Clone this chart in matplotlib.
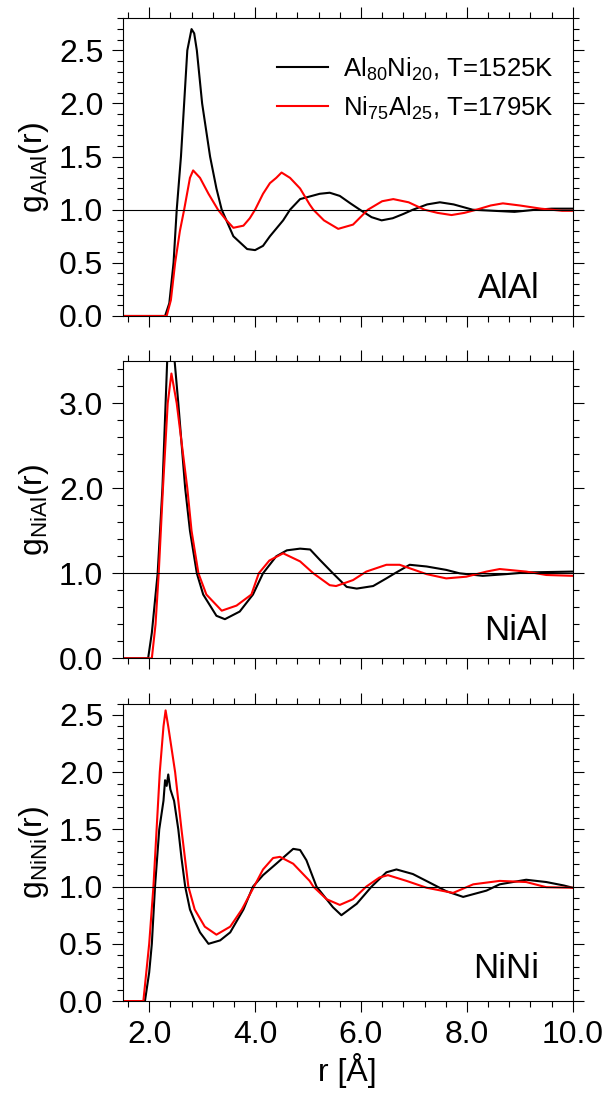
import numpy as np
import matplotlib.pyplot as plt
from matplotlib.ticker import MultipleLocator, FormatStrFormatter

plt.rcParams['font.family'] = ['Liberation Sans', 'DejaVu Sans']
plt.rcParams['mathtext.fontset'] = 'custom'
plt.rcParams['mathtext.rm'] = 'Liberation Sans'

# --- AlAl ---
alal_r_al = [1.5, 2.30, 2.38, 2.46, 2.52, 2.60, 2.66, 2.72, 2.80, 2.85, 2.90, 3.00, 3.15, 3.27,
             3.37, 3.59, 3.85, 4.00, 4.15, 4.28, 4.53, 4.66, 4.85, 5.22, 5.41, 5.60, 5.80,
             6.01, 6.20, 6.39, 6.60, 6.80, 6.98, 7.25, 7.49, 7.75, 8.11, 8.50, 8.90, 9.30,
             9.60, 10.0]
alal_g_al = [0.0, 0.0, 0.12, 0.5, 1.0, 1.5, 2.0, 2.5, 2.70, 2.66, 2.5, 2.0, 1.5, 1.2,
             1.0, 0.75, 0.63, 0.62, 0.66, 0.75, 0.9, 1.0, 1.1, 1.15, 1.16, 1.13, 1.06,
             0.99, 0.93, 0.90, 0.92, 0.96, 1.0, 1.05, 1.07, 1.05, 1.0, 0.99, 0.98, 1.0,
             1.01, 1.01]
alal_r_ni = [1.5, 2.33, 2.41, 2.49, 2.58, 2.66, 2.77, 2.83, 2.96, 3.12, 3.30, 3.46, 3.59,
             3.78, 3.90, 4.00, 4.15, 4.28, 4.40, 4.50, 4.66, 4.85, 5.03, 5.10, 5.30, 5.57,
             5.85, 6.13, 6.40, 6.61, 6.90, 7.20, 7.45, 7.71, 7.95, 8.18, 8.45, 8.68, 9.00,
             9.40, 9.80, 10.0]
alal_g_ni = [0.0, 0.0, 0.15, 0.5, 0.8, 1.0, 1.3, 1.37, 1.3, 1.15, 1.0, 0.9, 0.83,
             0.85, 0.92, 1.0, 1.15, 1.25, 1.3, 1.35, 1.3, 1.2, 1.05, 1.0, 0.9, 0.82,
             0.86, 1.0, 1.08, 1.10, 1.07, 1.0, 0.97, 0.95, 0.97, 1.0, 1.04, 1.06, 1.04,
             1.01, 0.99, 0.99]

# --- NiAl ---
nial_r_al = [1.5, 1.98, 2.05, 2.16, 2.25, 2.31, 2.34, 2.41, 2.48, 2.55, 2.68, 2.77, 2.90,
             3.02, 3.27, 3.43, 3.71, 3.96, 4.15, 4.40, 4.60, 4.85, 5.04, 5.22, 5.47, 5.73,
             5.92, 6.23, 6.48, 6.64, 6.92, 7.24, 7.61, 7.86, 8.30, 8.74, 9.12, 10.0]
nial_g_al = [0.0, 0.0, 0.3, 1.0, 2.0, 3.0, 3.5, 3.65, 3.5, 3.0, 2.0, 1.5, 1.0,
             0.75, 0.5, 0.46, 0.55, 0.75, 1.0, 1.2, 1.27, 1.29, 1.28, 1.16, 1.0, 0.84,
             0.82, 0.85, 0.94, 1.0, 1.10, 1.08, 1.04, 1.0, 0.97, 0.99, 1.01, 1.02]
nial_r_ni = [1.5, 2.05, 2.12, 2.18, 2.26, 2.35, 2.42, 2.52, 2.72, 2.80, 2.93, 3.08, 3.37,
             3.65, 3.93, 4.07, 4.27, 4.53, 4.85, 5.10, 5.41, 5.53, 5.85, 6.10, 6.48, 6.73,
             7.24, 7.61, 7.99, 8.37, 8.62, 9.12, 9.50, 10.0]
nial_g_ni = [0.0, 0.0, 0.4, 1.0, 2.0, 3.0, 3.35, 3.0, 2.0, 1.5, 1.0, 0.75, 0.56,
             0.62, 0.75, 1.0, 1.15, 1.235, 1.14, 1.0, 0.86, 0.85, 0.92, 1.02, 1.10, 1.10,
             0.99, 0.94, 0.96, 1.02, 1.05, 1.02, 0.98, 0.97]

# --- NiNi ---
nini_r_al = [1.5, 1.92, 2.00, 2.05, 2.11, 2.19, 2.27, 2.30, 2.33, 2.36, 2.40, 2.47, 2.55,
             2.61, 2.68, 2.77, 2.86, 2.96, 3.12, 3.34, 3.53, 3.78, 3.96, 4.15, 4.40, 4.72,
             4.85, 4.97, 5.16, 5.47, 5.63, 5.92, 6.20, 6.48, 6.67, 6.98, 7.36, 7.61, 7.93,
             8.37, 8.62, 9.12, 9.50, 9.83, 10.0]
nini_g_al = [0.0, 0.0, 0.25, 0.5, 1.0, 1.5, 1.75, 1.93, 1.88, 1.98, 1.85, 1.75, 1.5,
             1.25, 1.0, 0.8, 0.7, 0.6, 0.50, 0.53, 0.6, 0.8, 1.0, 1.1, 1.2, 1.33,
             1.32, 1.23, 1.0, 0.82, 0.75, 0.85, 1.0, 1.125, 1.15, 1.11, 1.02, 0.96, 0.91,
             0.965, 1.02, 1.06, 1.04, 1.01, 0.99]
nini_r_ni = [1.5, 1.89, 2.00, 2.08, 2.14, 2.20, 2.27, 2.31, 2.36, 2.49, 2.61, 2.74, 2.86,
             3.05, 3.27, 3.53, 3.75, 3.98, 4.15, 4.34, 4.47, 4.72, 5.03, 5.10, 5.35, 5.60,
             5.85, 6.10, 6.35, 6.51, 6.86, 7.24, 7.74, 8.12, 8.62, 9.12, 9.50, 10.0]
nini_g_ni = [0.0, 0.0, 0.5, 1.0, 1.5, 2.0, 2.4, 2.54, 2.4, 2.0, 1.5, 1.0, 0.8,
             0.65, 0.58, 0.65, 0.8, 1.0, 1.15, 1.25, 1.26, 1.2, 1.05, 1.0, 0.89, 0.84,
             0.89, 1.0, 1.08, 1.10, 1.05, 0.99, 0.945, 1.02, 1.05, 1.04, 0.995, 0.99]

panels = [
    ('AlAl', alal_r_al, alal_g_al, alal_r_ni, alal_g_ni, 2.8, 0.5, 0.1, 0.927, 0.061),
    ('NiAl', nial_r_al, nial_g_al, nial_r_ni, nial_g_ni, 3.5, 1.0, 0.2, 0.945, 0.061),
    ('NiNi', nini_r_al, nini_g_al, nini_r_ni, nini_g_ni, 2.6, 0.5, 0.1, 0.925, 0.077),
]
bottoms = [0.7143, 0.4048, 0.0949]

fig = plt.figure(figsize=(6.09, 11.06), dpi=100)

for i, (name, r1, g1, r2, g2, ymax, ymaj, ymin, tx, ty) in enumerate(panels):
    ax = fig.add_axes([0.2015, bottoms[i], 0.739, 0.2690])
    ax.plot(r1, g1, color='black', lw=1.5, label=r'Al$_{\mathregular{80}}$Ni$_{\mathregular{20}}$, T=1525K')
    ax.plot(r2, g2, color='red', lw=1.5, label=r'Ni$_{\mathregular{75}}$Al$_{\mathregular{25}}$, T=1795K')
    ax.axhline(1.0, color='black', lw=0.8)
    ax.set_xlim(1.5, 10.0)
    ax.set_ylim(0, ymax)
    ax.xaxis.set_major_locator(MultipleLocator(2.0))
    ax.xaxis.set_minor_locator(MultipleLocator(0.4))
    ax.yaxis.set_major_locator(MultipleLocator(ymaj))
    ax.yaxis.set_minor_locator(MultipleLocator(ymin))
    ax.xaxis.set_major_formatter(FormatStrFormatter('%.1f'))
    ax.yaxis.set_major_formatter(FormatStrFormatter('%.1f'))
    ax.tick_params(which='both', direction='out', top=True, right=True, width=0.8,
                   labelsize=23)
    ax.tick_params(which='major', length=8, pad=6)
    ax.tick_params(which='minor', length=4.5)
    for s in ax.spines.values():
        s.set_linewidth(0.8)
    if i < 2:
        ax.tick_params(labelbottom=False)
    else:
        ax.set_xlabel('r [Å]', fontsize=23, labelpad=2)
    ax.set_ylabel('g$_{\\mathregular{%s}}$(r)' % name, fontsize=23, labelpad=6)
    ax.text(tx, ty, name, transform=ax.transAxes, ha='right', va='baseline', fontsize=25)
    if i == 0:
        ax.legend(loc='upper left', bbox_to_anchor=(0.343, 0.876), frameon=False,
                  fontsize=18.5, borderpad=0, borderaxespad=0, handlelength=1.98,
                  handletextpad=0.58, labelspacing=0.45)

fig.savefig('out.png', dpi=100)
